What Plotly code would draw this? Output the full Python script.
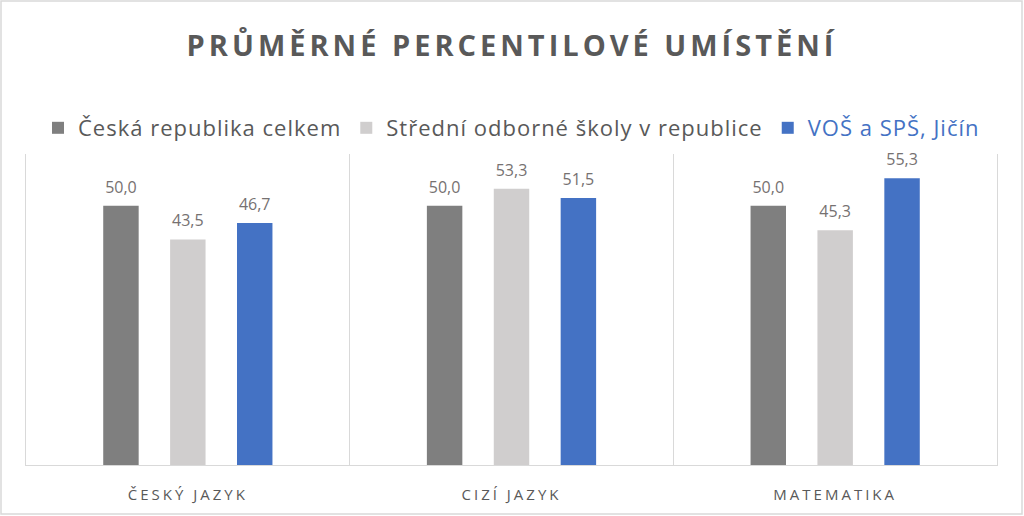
import plotly.graph_objects as go

categories = ["ČESKÝ JAZYK", "CIZÍ JAZYK", "MATEMATIKA"]
series_names = ["Česká republika celkem", "Střední odborné školy v republice", "VOŠ a SPŠ, Jičín"]
cr_values = [50.0, 50.0, 50.0]
sos_values = [43.5, 53.3, 45.3]
jicin_values = [46.7, 51.5, 55.3]
colors = ["#7F7F7F", "#D0CECE", "#4472C4"]
title_text = "PRŮMĚRNÉ PERCENTILOVÉ UMÍSTĚNÍ"

W, H = 1024, 516
ml, mr, mt, mb = 26, 27, 154, 51
BARGAP = 0.38

def fmt(v):
    return f"{v:.1f}".replace(".", ",")

fig = go.Figure()
all_series = [cr_values, sos_values, jicin_values]
for i, (name, vals, col) in enumerate(zip(series_names, all_series, colors)):
    label = f'<span style="letter-spacing:1px">{name}</span>'
    if col == "#4472C4":
        label = f'<span style="color:#4472C4;letter-spacing:1px">{name}</span>'
    fig.add_trace(go.Bar(
        x=categories, y=vals, name=label, offsetgroup=str(i),
        marker=dict(color=col, line=dict(width=0)),
        hoverinfo="skip",
    ))
for i, vals in enumerate(all_series):
    fig.add_trace(go.Scatter(
        x=categories, y=vals, mode="markers+text", offsetgroup=str(i),
        marker=dict(size=13, opacity=0, color="white"),
        text=[fmt(v) for v in vals], textposition="top center",
        textfont=dict(family="Open Sans", size=16, color="#767171"),
        showlegend=False, hoverinfo="skip", cliponaxis=False,
    ))

pw = W - ml - mr
ph = H - mt - mb
fig.add_shape(type="rect", xref="paper", yref="paper",
              x0=(1 - ml) / pw, x1=(W - 2 - ml) / pw,
              y0=-(mb - 2) / ph, y1=1 + (mt - 1) / ph,
              line=dict(color="#D9D9D9", width=1.5), fillcolor="rgba(0,0,0,0)", layer="below")

fig.update_layout(
    width=W, height=H,
    margin=dict(l=ml, r=mr, t=mt, b=mb, autoexpand=False),
    paper_bgcolor="white", plot_bgcolor="white",
    barmode="group", bargap=BARGAP, bargroupgap=0.47,
    scattermode="group", scattergap=BARGAP,
    title=dict(text=f'<span style="letter-spacing:4px">{title_text}</span>',
               x=0.5, xanchor="center", y=1 - 46 / H, yanchor="middle",
               font=dict(family="Open Sans", size=29, color="#595959", weight="bold")),
    legend=dict(orientation="h", x=0.5, xanchor="center", y=1 + (mt - 128) / ph, yanchor="middle",
                font=dict(family="Open Sans", size=22, color="#595959"),
                itemwidth=30, traceorder="normal", tracegroupgap=0),
    showlegend=True,
)
fig.update_xaxes(
    type="category", tickson="boundaries", showgrid=True, gridcolor="#D9D9D9", gridwidth=1,
    showline=True, linecolor="#D9D9D9", linewidth=1, ticks="", ticklabelstandoff=16,
    tickfont=dict(family="Open Sans", size=15, color="#595959"),
    tickvals=categories,
    ticktext=[f'<span style="letter-spacing:3px">{c}</span>' for c in categories],
)
fig.update_yaxes(range=[0, 60], showgrid=False, showticklabels=False, zeroline=False,
                 showline=True, mirror=True, linecolor="#D9D9D9", linewidth=1)

fig.write_html("out.html", config={"displayModeBar": False},
               post_script="document.body.style.margin='0';document.body.style.overflow='hidden';")
